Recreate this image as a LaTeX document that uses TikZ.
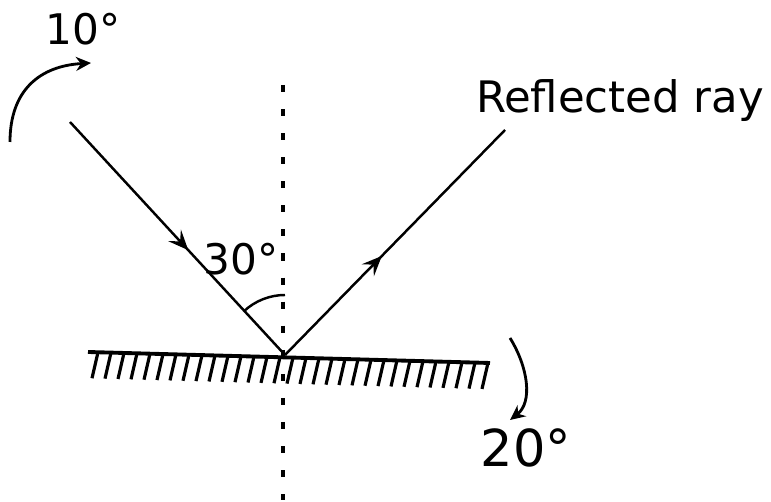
\documentclass[tikz,border=0pt]{standalone}
\usepackage{fontspec}
\setmainfont{DejaVu Sans}
\usetikzlibrary{calc,arrows.meta,decorations.markings}

\begin{document}
\begin{tikzpicture}[x=0.02cm,y=0.02cm,line width=1.4pt,>={Stealth[length=3mm,width=2.8mm]},
  midarrow/.style={postaction={decorate,decoration={markings,
    mark=at position #1 with {\arrow{Stealth[length=4mm,width=3.4mm,inset=1.6mm]}}}}},
  lbl/.style={inner sep=0pt,anchor=base,font=\fontsize{24}{28}\selectfont}]
  \useasboundingbox (0,0) rectangle (771,502);
  \coordinate (O) at (285,147);
  \coordinate (A) at (70,380);
  \coordinate (B) at (505,372);
  \coordinate (ML) at (88,150);
  \coordinate (MR) at (490,139);
  \coordinate (NT) at (283,417);
  \coordinate (NB) at (283,2);
  % mirror and hatching
  \draw[line width=2.2pt] (ML)--(MR);
  \foreach \i in {0,...,30}{
    \pgfmathsetmacro\f{(\i*13+10)/402}
    \draw[line width=1.8pt] ($(ML)!\f!(MR)$) -- ++(-6,-26);
  }
  % normal
  \draw[line width=2pt,dash pattern=on 4pt off 9.7pt] (NT)--(NB);
  % rays
  \draw[midarrow=0.55] (A)--(O);
  \draw[midarrow=0.44] (O)--(B);
  % angle of incidence
  \draw (O) ++(132.7:60) arc (132.7:90:60);
  \node[lbl] (t30) at (241,227) {30°};
  \node[lbl,font=\fontsize{24.7}{28}\selectfont] (trefl) at (620,389) {Reflected ray};
  % turn of the ray
  \coordinate (r1s) at (10,360);
  \coordinate (r1e) at (91,439);
  \draw[->,line width=1.6pt] (r1s) .. controls (10,412) and (40,436) .. (r1e);
  \node[lbl] (t10) at (83,457) {10°};
  % turn of the mirror
  \coordinate (r2s) at (510,164);
  \coordinate (r2e) at (510,82);
  \draw[->,line width=1.6pt] (r2s) .. controls (528,135) and (533,100) .. (r2e);
  \node[lbl,font=\fontsize{29}{32}\selectfont] (t20) at (526,35) {20°};
\end{tikzpicture}
\end{document}
